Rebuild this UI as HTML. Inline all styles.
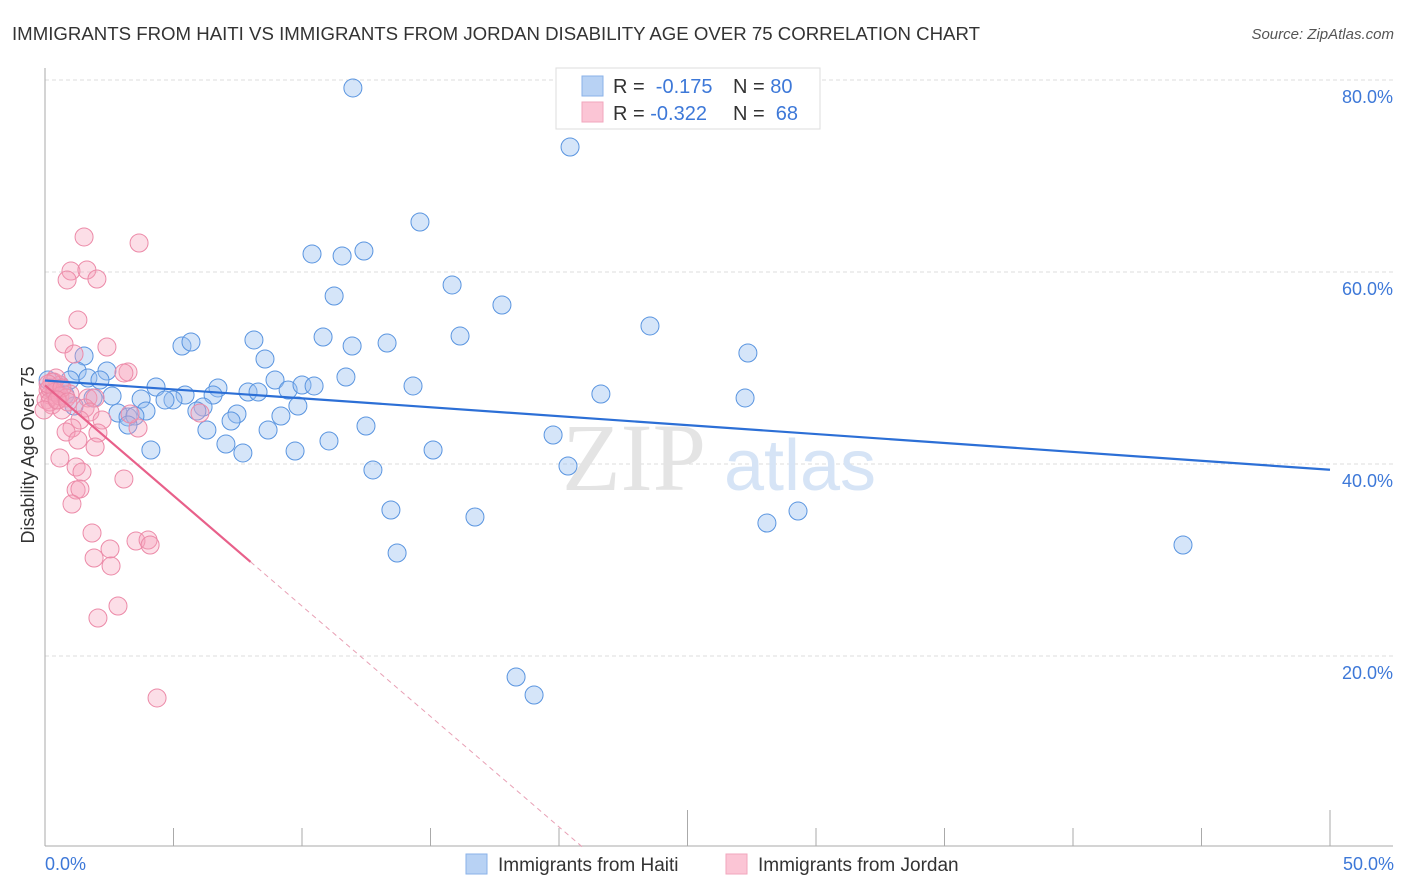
<!DOCTYPE html>
<html><head><meta charset="utf-8"><style>
body{margin:0;background:#fff;font-family:"Liberation Sans",sans-serif;}
svg{display:block}
</style></head><body>
<svg id="chart" width="1406" height="892">
<text x="12" y="40" font-size="18" fill="#333" textLength="968" lengthAdjust="spacingAndGlyphs">IMMIGRANTS FROM HAITI VS IMMIGRANTS FROM JORDAN DISABILITY AGE OVER 75 CORRELATION CHART</text>
<text x="1394" y="39" font-size="15" fill="#555" font-style="italic" text-anchor="end">Source: ZipAtlas.com</text>
<g id="grid"></g>
<text x="634" y="490" font-size="96" fill="#e4e4e4" font-family="Liberation Serif,serif" text-anchor="middle">ZIP</text>
<text x="800" y="490" font-size="72" fill="#d6e4f6" text-anchor="middle">atlas</text>
<g id="pts"></g>
<g id="lines"></g>
<text transform="translate(34,455) rotate(-90)" font-size="18" fill="#333" text-anchor="middle">Disability Age Over 75</text>
<text x="45" y="870" font-size="18" fill="#3d78d8">0.0%</text>
<text x="1394" y="870" font-size="18" fill="#3d78d8" text-anchor="end">50.0%</text>
<g>
<rect x="556" y="68" width="264" height="61" fill="#fff" stroke="#ddd"/>
<rect x="582" y="76" width="21" height="20" fill="#b8d2f4" stroke="#8ab2e8"/>
<rect x="582" y="102" width="21" height="20" fill="#fbc5d5" stroke="#f2a6bd"/>
<text x="613" y="93" font-size="20" fill="#333">R = <tspan fill="#3d78d8">&#160;-0.175</tspan></text>
<text x="733" y="93" font-size="20" fill="#333">N = <tspan fill="#3d78d8">80</tspan></text>
<text x="613" y="120" font-size="20" fill="#333">R = <tspan fill="#3d78d8">-0.322</tspan></text>
<text x="733" y="120" font-size="20" fill="#333">N = <tspan fill="#3d78d8">&#160;68</tspan></text>
</g>
<g>
<rect x="466" y="854" width="21" height="20" fill="#b8d2f4" stroke="#8ab2e8"/>
<text x="498" y="871" font-size="19" fill="#333">Immigrants from Haiti</text></g>
<g>
<rect x="726" y="854" width="21" height="20" fill="#fbc5d5" stroke="#f2a6bd"/>
<text x="758" y="871" font-size="19" fill="#333">Immigrants from Jordan</text></g>
</svg>
<script>
const yTicks=[20,40,60,80];
const xTicks=[0,5,10,15,20,25,30,35,40,45,50];
const haitiPx=[[353,88],[570,147],[420,222],[312,254],[342,256],[364,251],[452,285],[334,296],[502,305],[650,326],[748,353],[460,336],[323,337],[352,346],[387,343],[182,346],[191,342],[254,340],[84,356],[265,359],[107,371],[77,371],[88,378],[100,380],[70,380],[346,377],[413,386],[275,380],[156,387],[218,388],[248,392],[258,392],[288,390],[302,385],[314,386],[185,395],[213,395],[173,400],[165,400],[141,399],[112,396],[203,407],[197,411],[146,411],[118,413],[128,417],[135,416],[298,406],[237,414],[231,421],[281,416],[366,426],[207,430],[268,430],[128,425],[329,441],[226,444],[295,451],[243,453],[151,450],[433,450],[553,435],[568,466],[373,470],[601,394],[745,398],[391,510],[475,517],[767,523],[798,511],[397,553],[1183,545],[516,677],[534,695],[48,380],[55,390],[60,385],[65,395],[93,398],[74,406]];
const jordanPx=[[84,237],[139,243],[71,271],[87,270],[67,280],[97,279],[78,320],[64,344],[107,347],[74,354],[128,372],[124,373],[54,382],[60,385],[48,390],[50,395],[58,400],[46,400],[52,405],[62,410],[70,394],[88,398],[95,398],[85,408],[90,412],[102,420],[80,420],[72,428],[66,432],[98,433],[78,440],[95,447],[138,428],[60,458],[76,467],[82,472],[76,490],[80,489],[72,504],[124,479],[92,533],[136,541],[148,540],[150,545],[110,549],[94,558],[111,566],[118,606],[98,618],[157,698],[200,413],[130,414],[56,378],[52,382],[50,388],[55,392],[60,396],[66,398],[50,402],[44,410],[48,384],[62,388],[57,400],[68,402]];
// data values (x %, y %)
const haitiX=haitiPx.map(p=>+((p[0]-45)/25.7).toFixed(2));
const haitiY=haitiPx.map(p=>+((848-p[1])/9.6).toFixed(2));
const jordanX=jordanPx.map(p=>+((p[0]-45)/25.7).toFixed(2));
const jordanY=jordanPx.map(p=>+((848-p[1])/9.6).toFixed(2));
const haitiTrend=[48.7,39.4];
const jordanTrend=[48.2,29.8];
const X=v=>45+v*25.7, Y=v=>848-v*9.6;
const NS='http://www.w3.org/2000/svg';
function mk(t,a,p){const e=document.createElementNS(NS,t);for(const k in a)e.setAttribute(k,a[k]);p.appendChild(e);return e;}
const grid=document.getElementById('grid');
yTicks.forEach(v=>{
 const l=mk('line',{x1:45,x2:1393,y1:Y(v),y2:Y(v),stroke:'#ddd','stroke-dasharray':'4,3'},grid);
 
 
 const t=mk('text',{x:1393,y:Y(v)+23,'font-size':18,fill:'#3d78d8','text-anchor':'end'},grid);t.textContent=v.toFixed(1)+'%';
 
 
});
mk('line',{x1:45,x2:45,y1:68,y2:846,stroke:'#aaa'},grid);
mk('line',{x1:45,x2:1393,y1:846,y2:846,stroke:'#aaa'},grid);
xTicks.forEach((v,i)=>{
 const tall=(v==25||v==50);
 const l=mk('line',{x1:X(v),x2:X(v),y1:tall?810:828,y2:846,stroke:'#aaa'},grid);
 
 
});
const pts=document.getElementById('pts');
haitiX.forEach((x,i)=>{const c=mk('circle',{cx:X(x),cy:Y(haitiY[i]),r:9,fill:'rgba(150,190,240,0.4)',stroke:'#5a95e0','stroke-width':1},pts);
 
 });
jordanX.forEach((x,i)=>{const c=mk('circle',{cx:X(x),cy:Y(jordanY[i]),r:9,fill:'rgba(245,160,185,0.35)',stroke:'#ec8aa8','stroke-width':1},pts);
 
 });
const ln=document.getElementById('lines');
const hl=mk('line',{x1:X(0),y1:Y(haitiTrend[0]),x2:X(50),y2:Y(haitiTrend[1]),stroke:'#2c6fd6','stroke-width':2.2},ln);


const slope=(jordanTrend[1]-jordanTrend[0])/8;
const jl=mk('line',{x1:X(0),y1:Y(jordanTrend[0]),x2:X(8),y2:Y(jordanTrend[1]),stroke:'#e8608a','stroke-width':2.2},ln);


const xe=-jordanTrend[0]/slope;
const jd=mk('line',{x1:X(8),y1:Y(jordanTrend[1]),x2:X(xe),y2:Y(0),stroke:'#e8a0b5','stroke-width':1,'stroke-dasharray':'5,4'},ln);


</script>
</body></html>
